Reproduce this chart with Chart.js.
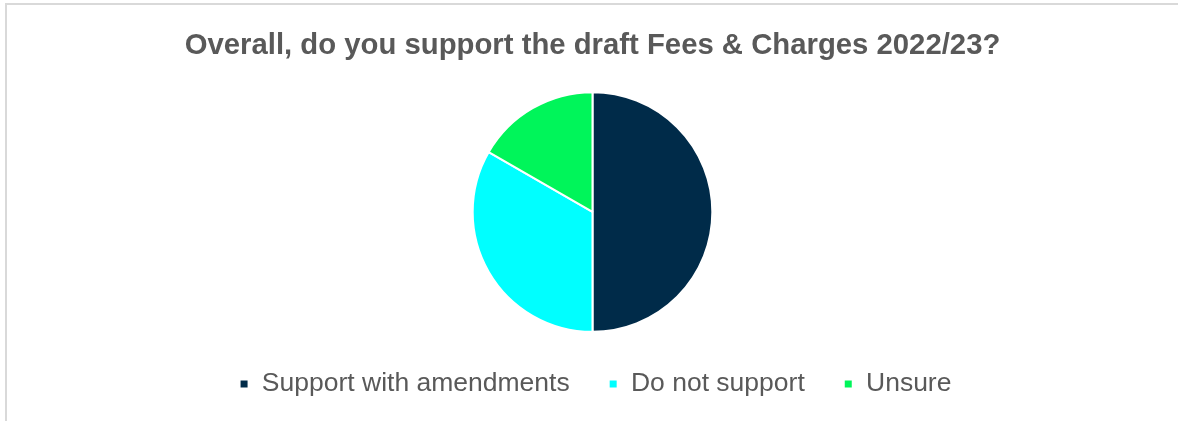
<!DOCTYPE html>
<html>
<head>
<meta charset="utf-8">
<script src="https://cdn.jsdelivr.net/npm/chart.js@4"></script>
<style>
  html, body { margin: 0; padding: 0; background: #fff; overflow: hidden; }
  #wrap { position: relative; width: 1178px; height: 421px; }
  #frame { position: absolute; left: 5px; top: 3px; width: 1300px; height: 600px; border: 2px solid #d9d9d9; }
  #chart { position: absolute; left: 0; top: 0; }
</style>
</head>
<body>
<div id="wrap">
  <div id="frame"></div>
  <canvas id="chart" width="1178" height="421"></canvas>
</div>
<script>
const labels = ["Support with amendments", "Do not support", "Unsure"]
const responses = [3, 2, 1]
const colours = ["#002b49", "#00ffff", "#00f55a"]

const textGrey = "#595959"

// nudge the legend row a little, the way it sits in the original
const legendNudge = {
  id: "legendNudge",
  afterLayout(chart) {
    const lg = chart.legend
    lg.left += 3
    lg.right += 3
    lg.top -= 1
    lg.bottom -= 1
  }
}

new Chart(document.getElementById("chart"), {
  type: "pie",
  data: {
    labels: labels,
    datasets: [{
      data: responses,
      backgroundColor: colours,
      borderColor: "#ffffff",
      borderWidth: 2
    }]
  },
  options: {
    responsive: false,
    animation: false,
    layout: { padding: { left: 7, right: 0, top: 0, bottom: 12.7 } },
    plugins: {
      title: {
        display: true,
        text: "Overall, do you support the draft Fees & Charges 2022/23?",
        color: textGrey,
        font: { family: "'Liberation Sans', Arial, sans-serif", size: 29.3, weight: "bold" },
        padding: { top: 28, bottom: 28 }
      },
      legend: {
        position: "bottom",
        labels: {
          color: textGrey,
          font: { family: "'Liberation Sans', Arial, sans-serif", size: 26.5 },
          boxWidth: 9,
          boxHeight: 9,
          padding: 39
        }
      },
      tooltip: { enabled: false }
    }
  },
  plugins: [legendNudge]
})
</script>
</body>
</html>
